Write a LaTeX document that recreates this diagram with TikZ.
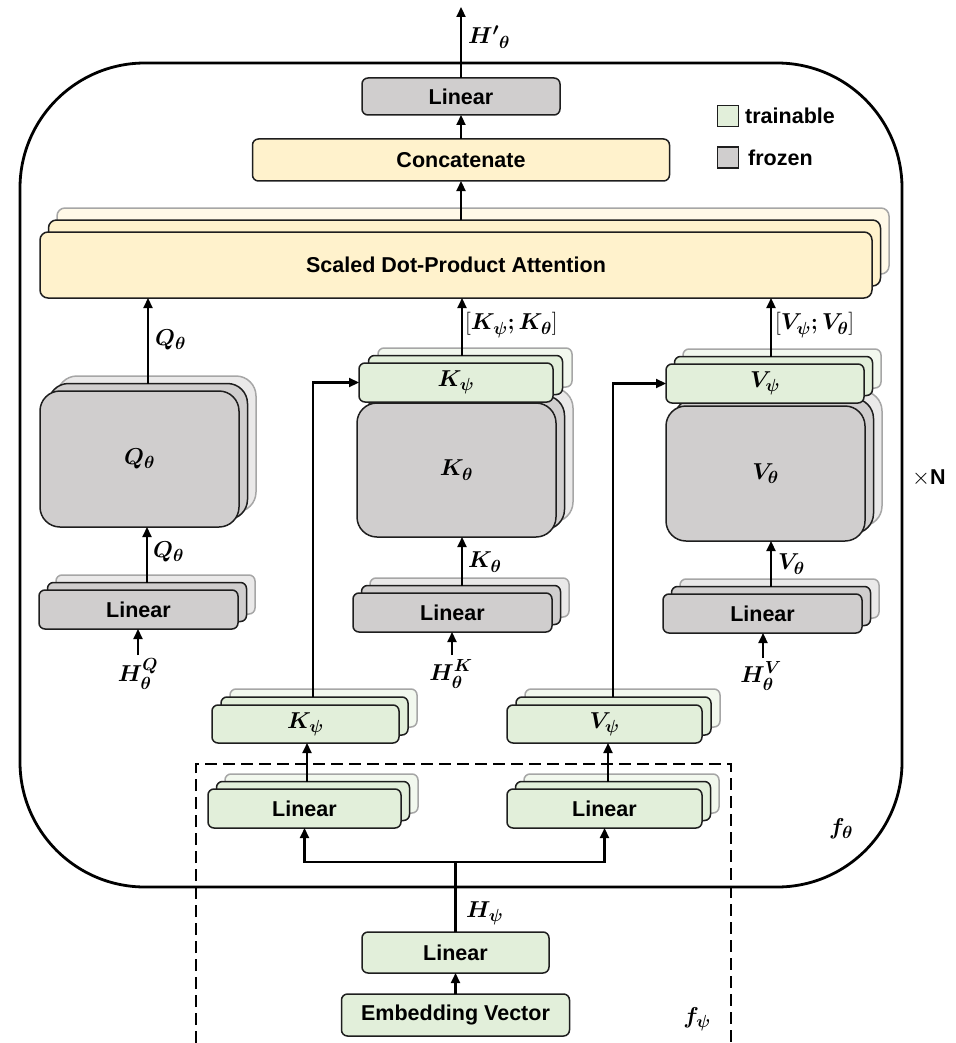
\RequirePackage{fix-cm}
\documentclass[tikz,border=0pt]{standalone}
\usepackage{amsmath}
\usepackage{bm}
\usepackage{fontspec}
\setmainfont{Liberation Sans}
\usetikzlibrary{arrows.meta}
% larger subscripts for the labels
\DeclareMathSizes{23}{23}{17.5}{13}

\definecolor{gfill}{RGB}{226,239,218}
\definecolor{kfill}{RGB}{208,206,206}
\definecolor{yfill}{RGB}{255,242,204}
\definecolor{edge}{RGB}{30,30,30}

% offset between the stacked copies of a block
\newcommand{\layeroffset}[2]{\def\ldx{#1}\def\ldy{#2}}
% stacked block: name, cx, cy, width, height, fill, corner radius, text
\newcommand{\layered}[8]{%
  \node[layer, fill=#6!45!white, draw=black!35, rounded corners=#7,
        minimum width=#4, minimum height=#5] (#1-3) at ({#2+2*(\ldx)},{#3+2*(\ldy)}) {};
  \node[layer, fill=#6, rounded corners=#7,
        minimum width=#4, minimum height=#5] (#1-2) at ({#2+\ldx},{#3+\ldy}) {};
  \node[layer, fill=#6, rounded corners=#7,
        minimum width=#4, minimum height=#5] (#1) at (#2,#3) {#8};
}
\newcommand{\mfont}{\fontsize{23}{26}\selectfont}

\begin{document}
\begin{tikzpicture}[x=1pt,y=-1pt,
  layer/.style={rectangle, draw=edge, line width=1.5pt, inner sep=0pt, outer sep=0pt,
                rounded corners=6pt, font=\fontsize{21.5}{24}\selectfont\bfseries},
  arr/.style={draw=black, line width=2.2pt, -{Triangle[length=10pt,width=9pt]}},
  ln/.style={draw=black, line width=2.2pt},
  mlabel/.style={inner sep=0pt, font=\mfont},
  legsq/.style={rectangle, draw=edge, line width=1.5pt, minimum size=21pt, inner sep=0pt},
  legtxt/.style={inner sep=0pt, anchor=west, font=\fontsize{21.5}{24}\selectfont\bfseries},
]
\useasboundingbox (0,0) rectangle (955,1043);

% f_theta block frame and f_psi dashed region
\draw[line width=2.8pt, rounded corners=125pt] (20,63) rectangle (902,887);
\draw[line width=2.4pt, dash pattern=on 12pt off 6pt] (196,1043) -- (196,764) -- (731,764) -- (731,1043);

% legend
\node[legsq, fill=gfill] (lg1) at (728,116) {};
\node[legtxt] (lg1t) at (745,116) {trainable};
\node[legsq, fill=kfill] (lg2) at (728,157.5) {};
\node[legtxt] (lg2t) at (748,157.5) {frozen};

% output projection and concatenation
\node[layer, fill=kfill, minimum width=198, minimum height=37] (linTop) at (461,96.5) {Linear};
\node[layer, fill=yfill, minimum width=417, minimum height=42] (concat) at (461,160) {Concatenate};

% attention heads
\layeroffset{8.5}{-12}
\layered{attn}{456}{265}{832}{66}{yfill}{8pt}{Scaled Dot-Product Attention}

% query branch
\layeroffset{8.5}{-7.5}
\layered{q}{139.5}{459}{199}{136}{kfill}{20pt}{\mfont$\bm{Q}_{\bm{\theta}}$}
\layered{linQ}{138.5}{609.5}{199}{39}{kfill}{6pt}{Linear}

% key branch
\layeroffset{8.5}{-7.5}
\layered{kth}{456.5}{470}{199}{134}{kfill}{20pt}{\mfont$\bm{K}_{\bm{\theta}}$}
\layeroffset{9.5}{-7.5}
\layered{kpsiU}{456}{382.5}{194}{39}{gfill}{6pt}{\mfont$\bm{K}_{\bm{\psi}}$}
\layeroffset{8.5}{-7.5}
\layered{linK}{452.5}{612.5}{199}{39}{kfill}{6pt}{Linear}

% value branch
\layered{vth}{765.5}{473.5}{199}{135}{kfill}{20pt}{\mfont$\bm{V}_{\bm{\theta}}$}
\layered{vpsiU}{765}{383.5}{198}{39}{gfill}{6pt}{\mfont$\bm{V}_{\bm{\psi}}$}
\layered{linV}{762.5}{613.5}{199}{39}{kfill}{6pt}{Linear}

% prefix generator
\layeroffset{9}{-8}
\layered{kpsiL}{305.5}{724}{187}{38}{gfill}{6pt}{\mfont$\bm{K}_{\bm{\psi}}$}
\layered{vpsiL}{604.5}{724}{195}{38}{gfill}{6pt}{\mfont$\bm{V}_{\bm{\psi}}$}
\layeroffset{8.5}{-7.5}
\layered{linKL}{304.5}{808.5}{193}{39}{gfill}{6pt}{Linear}
\layered{linVL}{604.5}{808.5}{195}{39}{gfill}{6pt}{Linear}
\node[layer, fill=gfill, minimum width=187, minimum height=41] (linB) at (455.5,952.5) {Linear};
\node[layer, fill=gfill, minimum width=228, minimum height=42] (emb) at (455.5,1015) {Embedding Vector};

% connector columns
\coordinate (out) at (461,7);
\coordinate (qx) at (148,0);
\coordinate (qx2) at (147,0);
\coordinate (hq) at (138,655);
\coordinate (kx) at (462,0);
\coordinate (hk) at (452,655);
\coordinate (vx) at (771,0);
\coordinate (hv) at (763,658);
\coordinate (kup) at (313,0);
\coordinate (vup) at (613,0);
\coordinate (kx2) at (307,0);
\coordinate (vx2) at (608,0);
\coordinate (split) at (455.5,862);

% connectors
\draw[arr] (linTop.north) -- (out);
\draw[arr] (concat.north) -- (linTop.south);
\draw[arr] (concat.south |- attn-2.north) -- (concat.south);

\draw[arr] (qx |- q-2.north) -- (qx |- attn.south);
\draw[arr] (qx2 |- linQ-2.north) -- (qx2 |- q.south);
\draw[arr] (hq) -- (hq |- linQ.south);

\draw[arr] (kx |- kpsiU-2.north) -- (kx |- attn.south);
\draw[arr] (kx |- linK-2.north) -- (kx |- kth.south);
\draw[arr] (hk) -- (hk |- linK.south);

\draw[arr] (vx |- vpsiU-2.north) -- (vx |- attn.south);
\draw[arr] (vx |- linV-2.north) -- (vx |- vth.south);
\draw[arr] (hv) -- (hv |- linV.south);

\draw[arr] (kup |- kpsiL-2.north) |- (kpsiU.west);
\draw[arr] (vup |- vpsiL-2.north) |- (vpsiU.west);
\draw[arr] (kx2 |- linKL-2.north) -- (kx2 |- kpsiL.south);
\draw[arr] (vx2 |- linVL-2.north) -- (vx2 |- vpsiL.south);

\draw[ln] (linB.north) -- (split);
\draw[arr] (split) -| (linKL.south);
\draw[arr] (split) -| (linVL.south);
\draw[arr] (emb.north) -- (linB.south);

% labels
\node[mlabel, anchor=west] (lout) at (468,37) {$\bm{H}^{\bm{\prime}}{}_{\bm{\theta}}$};
\node[mlabel, anchor=west] (lqa) at (155,340) {$\bm{Q}_{\bm{\theta}}$};
\node[mlabel, anchor=west] (lqb) at (153,552) {$\bm{Q}_{\bm{\theta}}$};
\node[mlabel] (lhq) at (138,674) {$\bm{H}^{\bm{Q}}_{\bm{\theta}}$};
\node[mlabel, anchor=west] (lka) at (465,325) {$[\bm{K}_{\bm{\psi}}\bm{;}\bm{K}_{\bm{\theta}}]$};
\node[mlabel, anchor=west] (lkb) at (468,562) {$\bm{K}_{\bm{\theta}}$};
\node[mlabel] (lhk) at (451,674) {$\bm{H}^{\bm{K}}_{\bm{\theta}}$};
\node[mlabel, anchor=west] (lva) at (775,325) {$[\bm{V}_{\bm{\psi}}\bm{;}\bm{V}_{\bm{\theta}}]$};
\node[mlabel, anchor=west] (lvb) at (778,564) {$\bm{V}_{\bm{\theta}}$};
\node[mlabel] (lhv) at (761,676) {$\bm{H}^{\bm{V}}_{\bm{\theta}}$};
\node[mlabel, anchor=west] (lhpsi) at (466,913) {$\bm{H}_{\bm{\psi}}$};
\node[mlabel] (lfpsi) at (697,1019) {$\bm{f}_{\bm{\psi}}$};
\node[mlabel] (lftheta) at (841,829) {$\bm{f}_{\bm{\theta}}$};
\node[mlabel, anchor=west] (lN) at (912,478) {$\times$\fontsize{21.5}{24}\selectfont\textbf{N}};
\end{tikzpicture}
\end{document}
